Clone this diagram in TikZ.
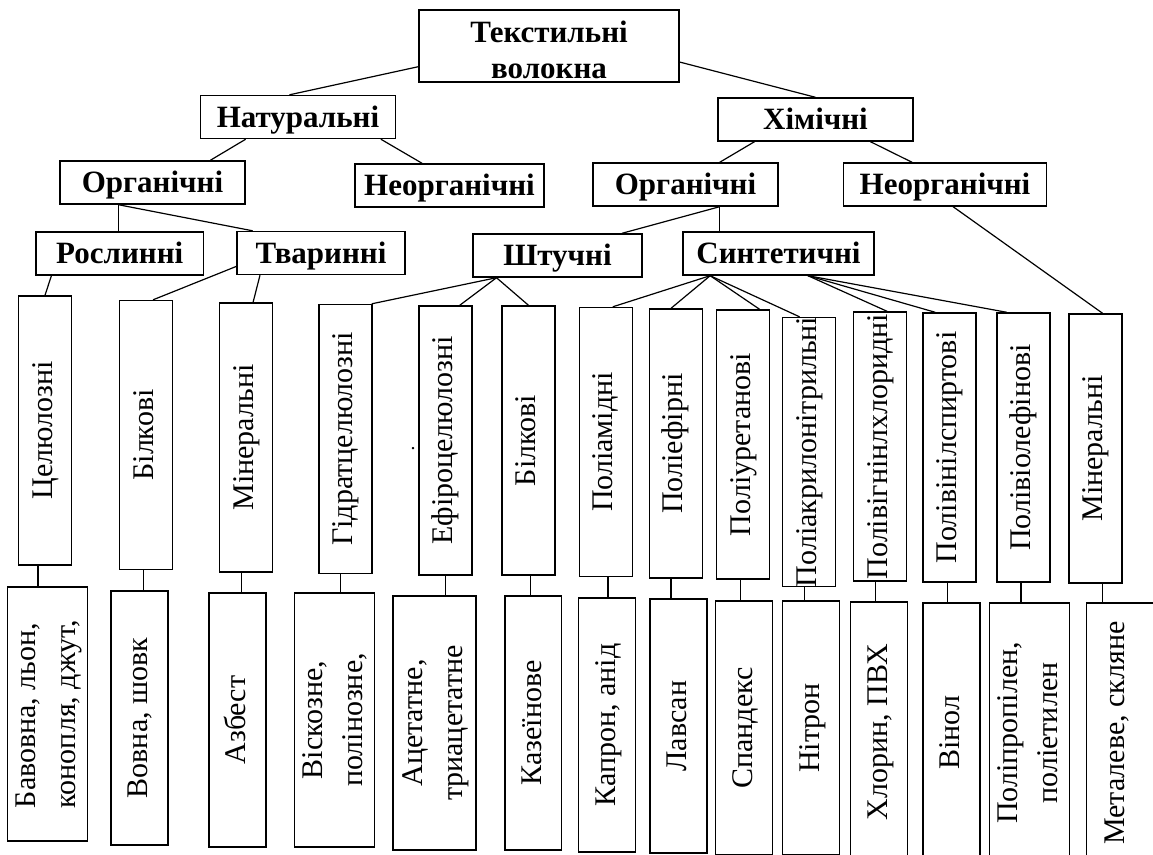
\documentclass[tikz,border=0pt]{standalone}
\usepackage{fontspec}
\setmainfont{Liberation Serif}
\usepackage{graphicx}
\newcommand{\vtxt}[2][c]{\rotatebox{90}{\makebox[0pt]{\begin{tabular}{@{}#1@{}}#2\end{tabular}}}}
\begin{document}
\begin{tikzpicture}[x=1pt,y=-1pt,
    hbox/.style={draw,line width=1.4pt,inner sep=0pt,minimum height=43,text height=26,text depth=6,
      font=\fontsize{31}{36}\selectfont\bfseries},
    vbox/.style={draw,line width=1.4pt,inner sep=0pt,minimum width=53,minimum height=269,
      font=\fontsize{30}{36}\selectfont},
    bbox/.style={draw,line width=1.4pt,inner sep=0pt,minimum height=254,
      font=\fontsize{30}{40}\selectfont}]
  \clip (0,0) rectangle (1153,854);
  \draw
    (549,46) node[hbox,minimum width=260,minimum height=72,text height=30,text depth=38] (tv){%
      \begin{tabular}[t]{@{}c@{}}Текстильні\\волокна\end{tabular}}
    (298,117) node[hbox,minimum width=195] (nat){Натуральні}
    (815.5,119.5) node[hbox,minimum width=195] (chem){Хімічні}
    (152.5,182.5) node[hbox,minimum width=185] (norg){Органічні}
    (449.5,185.5) node[hbox,minimum width=189] (ninorg){Неорганічні}
    (685.5,184.5) node[hbox,minimum width=185] (corg){Органічні}
    (945,184.5) node[hbox,minimum width=203] (cinorg){Неорганічні}
    (119.75,253.5) node[hbox,minimum width=167.5] (plant){Рослинні}
    (321,253) node[hbox,minimum width=168] (anim){Тваринні}
    (557.5,255.5) node[hbox,minimum width=169] (art){Штучні}
    (778.5,253.5) node[hbox,minimum width=191] (syn){Синтетичні};
  % group names
  \draw
    (45,430.5) node[vbox] (v1){\vtxt{Целюлозні}}
    (146,435) node[vbox] (v2){\vtxt{Білкові}}
    (246,437.5) node[vbox] (v3){\vtxt{Мінеральні}}
    (345.5,439) node[vbox] (v4){\vtxt{Гідратцелюлозні}}
    (445.5,440.5) node[vbox] (v5){\vtxt{Ефіроцелюлозні}}
    (528.5,440.5) node[vbox] (v6){\vtxt{Білкові}}
    (605.7,442) node[vbox] (v7){\vtxt{Поліамідні}}
    (675.75,443.5) node[vbox] (v8){\vtxt{Поліефірні}}
    (743,444.5) node[vbox] (v9){\vtxt{Поліуретанові}}
    (809,452) node[vbox] (v10){\vtxt{Поліакрилонітрильні}}
    (880,446.5) node[vbox] (v11){\vtxt{Полівігнінлхлоридні}}
    (949.5,447.5) node[vbox] (v12){\vtxt{Полівінілспиртові}}
    (1023.4,447.5) node[vbox] (v13){\vtxt{Полівіолефінові}}
    (1095.5,448.5) node[vbox] (v14){\vtxt{Мінеральні}}
    (413,449) node[font=\fontsize{20}{24}\selectfont] (dot){.};
  % fibres
  \draw
    (47.75,714) node[bbox,minimum width=77.5] (b1){\vtxt[l]{Бавовна, льон,\\конопля, джут,}}
    (139.5,718) node[bbox,minimum width=57] (b2){\vtxt{Вовна, шовк}}
    (237.5,720) node[bbox,minimum width=57] (b3){\vtxt{Азбест}}
    (334.5,720) node[bbox,minimum width=75] (b4){\vtxt{Віскозне,\\полінозне,}}
    (434.5,723) node[bbox,minimum width=83] (b5){\vtxt{Ацетатне,\\триацетатне}}
    (533.3,723) node[bbox,minimum width=56.6] (b6){\vtxt{Казеїнове}}
    (607,725) node[bbox,minimum width=57] (b7){\vtxt{Капрон, анід}}
    (678.5,726) node[bbox,minimum width=57] (b8){\vtxt{Лавсан}}
    (744,728) node[bbox,minimum width=57] (b9){\vtxt{Спандекс}}
    (811,728) node[bbox,minimum width=57] (b10){\vtxt{Нітрон}}
    (879,732) node[bbox,minimum width=57,minimum height=260] (b11){\vtxt{Хлорин, ПВХ}}
    (951.5,733) node[bbox,minimum width=57,minimum height=260] (b12){\vtxt{Вінол}}
    (1029.4,733) node[bbox,minimum width=73,minimum height=260] (b13){\vtxt{Поліпропілен,\\поліетилен}}
    (1151.7,733) node[bbox,minimum width=130,minimum height=260] (b14){\makebox[110pt][l]{\vtxt{Металеве, скляне}}};
  \begin{scope}[line width=1.2pt]
    \draw (tv.189) to (nat.111);
    \draw (tv.-7) to (chem.north);
    \draw (nat.203) to (norg.21.5);
    \draw (nat.345) to (ninorg.141);
    \draw (norg.213.5) to (norg.213.5 |- plant.north);
    \draw (norg.213.5) to (anim.162.6);
    \draw (chem.200.7) to (corg.33);
    \draw (chem.338.5) to (cinorg.146);
    \draw (corg.327) to (art.19);
    \draw (corg.327) to (corg.327 |- syn.north);
    \draw (plant.198.5) to (v1.north);
    \draw (anim.189.7) to (v2.87.6);
    \draw (anim.200.9) to (v3.87.6);
    \draw (art.200.8) to (v4.79.7);
    \draw (art.200.8) to (v5.84.4);
    \draw (art.200.8) to (v6.north);
    \draw (syn.198.7) to (v7.87.7);
    \draw (syn.198.7) to (v8.92);
    \draw (syn.198.7) to (v9.83.8);
    \draw (syn.198.7) to (v10.94);
    \draw (syn.323.9) to (v11.87.4);
    \draw (syn.323.9) to (v12.96.6);
    \draw (syn.323.9) to (v13.97);
    \draw (cinorg.290.4) to (v14.87.4);
    \foreach \t/\b/\a in {v1/b1/267, v2/b2/269.4, v3/b3/268.3, v4/b4/268.9,
        v5/b5/270.4, v6/b6/271.5, v7/b7/271.4, v8/b8/268.8, v9/b9/269.1,
        v10/b10/268.7, v11/b11/268.6, v12/b12/269.4, v13/b13/269.3, v14/b14/273.6}
      \draw (\t.\a) to (\t.\a |- \b.north);
  \end{scope}
\end{tikzpicture}
\end{document}
